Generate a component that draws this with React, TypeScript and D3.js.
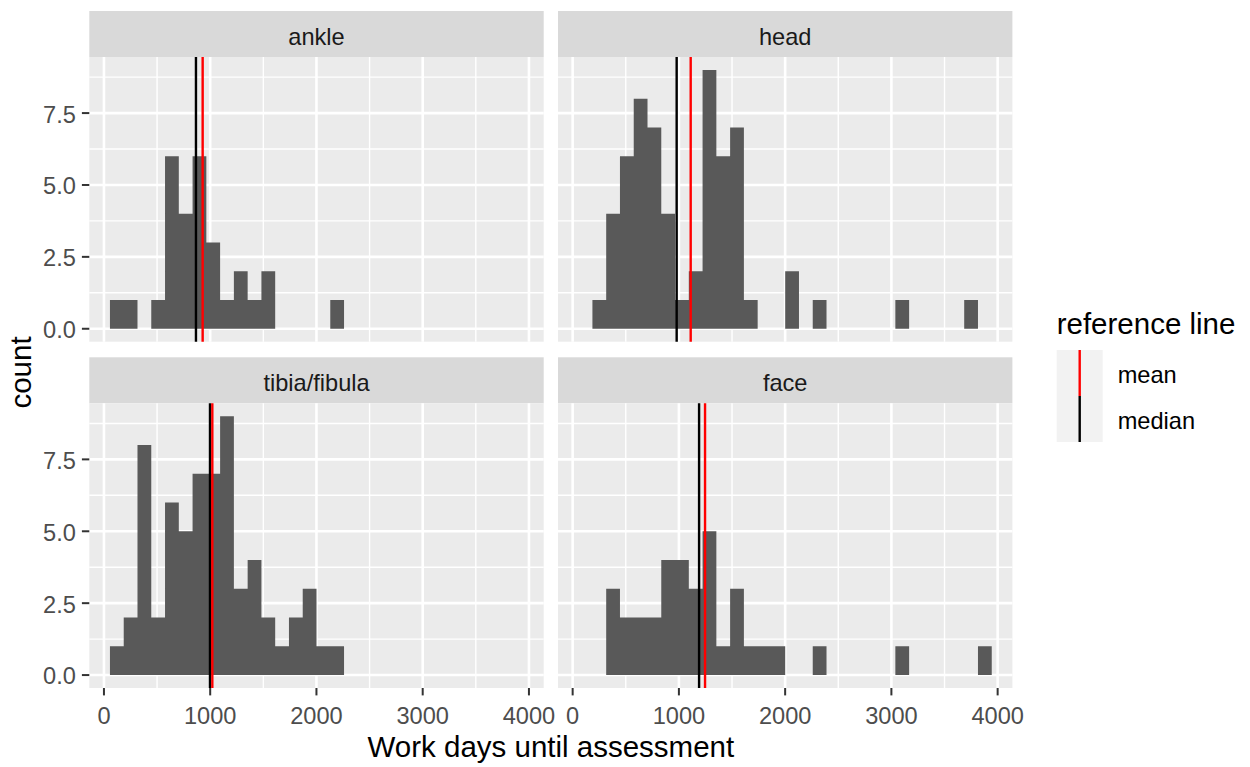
import { useEffect, useRef } from 'react'
import * as d3 from 'd3'

// histogram bins (30 bins, ggplot default)
const binStart = 56.5
const binWidth = 129.6
const binCount = 30

const facetNames = ['ankle', 'head', 'tibia/fibula', 'face']
const ankleCounts = [1, 1, 0, 1, 6, 4, 6, 3, 1, 2, 1, 2, 0, 0, 0, 0, 1, 0, 0, 0, 0, 0, 0, 0, 0, 0, 0, 0, 0, 0]
const headCounts = [0, 1, 4, 6, 8, 7, 4, 1, 2, 9, 6, 7, 1, 0, 0, 2, 0, 1, 0, 0, 0, 0, 0, 1, 0, 0, 0, 0, 1, 0]
const tibiaCounts = [1, 2, 8, 2, 6, 5, 7, 7, 9, 3, 4, 2, 1, 2, 3, 1, 1, 0, 0, 0, 0, 0, 0, 0, 0, 0, 0, 0, 0, 0]
const faceCounts = [0, 0, 3, 2, 2, 2, 4, 4, 3, 5, 1, 3, 1, 1, 1, 0, 0, 1, 0, 0, 0, 0, 0, 1, 0, 0, 0, 0, 0, 1]
const facetCounts = [ankleCounts, headCounts, tibiaCounts, faceCounts]
const facetMeans = [929, 1111, 1020, 1246]
const facetMedians = [866, 979, 998, 1190]

const xTicks = [0, 1000, 2000, 3000, 4000]
const xMinor = [500, 1500, 2500, 3500]
const yTicks = [0, 2.5, 5, 7.5]
const yMinor = [1.25, 3.75, 6.25, 8.75]
const legendItems = [
  { label: 'mean', color: '#FF0000' },
  { label: 'median', color: '#000000' },
]

const FONT = '"Liberation Sans", Arial, sans-serif'

export default function App() {
  const ref = useRef<SVGSVGElement>(null)

  useEffect(() => {
    const el = ref.current
    if (!el) return
    const svg = d3.select(el)
    svg.selectAll('*').remove()

    const left = 89.3
    const panelW = 454.4
    const gapX = 14.3
    const top = 11
    const stripH = 46
    const panelH = 284.7
    const gapY = 15.6
    const tickLen = 7.4
    const smallFont = 23.6
    const bigFont = 29.5

    const edges = d3.range(binCount + 1).map((i) => binStart + i * binWidth)
    const lo = edges[0]
    const hi = edges[binCount]
    const padX = (hi - lo) * 0.05
    const maxCount = d3.max(facetCounts.flat()) ?? 9
    const padY = maxCount * 0.05

    const x = d3.scaleLinear().domain([lo - padX, hi + padX]).range([0, panelW])
    const y = d3.scaleLinear().domain([-padY, maxCount + padY]).range([panelH, 0])

    svg.append('rect').attr('width', 1250).attr('height', 767).attr('fill', '#fff')

    facetNames.forEach((name, fi) => {
      const col = fi % 2
      const row = Math.floor(fi / 2)
      const px = left + col * (panelW + gapX)
      const stripY = top + row * (stripH + panelH + gapY)
      const py = stripY + stripH

      // strip
      svg.append('rect').attr('x', px).attr('y', stripY).attr('width', panelW).attr('height', stripH).attr('fill', '#D9D9D9')
      svg
        .append('text')
        .attr('x', px + panelW / 2)
        .attr('y', stripY + stripH / 2 + 10.5)
        .attr('text-anchor', 'middle')
        .attr('font-family', FONT)
        .attr('font-size', smallFont)
        .attr('fill', '#1A1A1A')
        .text(name)

      const g = svg.append('g').attr('transform', `translate(${px},${py})`)
      g.append('rect').attr('width', panelW).attr('height', panelH).attr('fill', '#EBEBEB')

      // grid
      g.selectAll('line.xmin').data(xMinor).join('line')
        .attr('x1', (d) => x(d)).attr('x2', (d) => x(d)).attr('y1', 0).attr('y2', panelH)
        .attr('stroke', '#fff').attr('stroke-width', 1.4)
      g.selectAll('line.ymin').data(yMinor).join('line')
        .attr('y1', (d) => y(d)).attr('y2', (d) => y(d)).attr('x1', 0).attr('x2', panelW)
        .attr('stroke', '#fff').attr('stroke-width', 1.4)
      g.selectAll('line.xmaj').data(xTicks).join('line')
        .attr('x1', (d) => x(d)).attr('x2', (d) => x(d)).attr('y1', 0).attr('y2', panelH)
        .attr('stroke', '#fff').attr('stroke-width', 2.6)
      g.selectAll('line.ymaj').data(yTicks).join('line')
        .attr('y1', (d) => y(d)).attr('y2', (d) => y(d)).attr('x1', 0).attr('x2', panelW)
        .attr('stroke', '#fff').attr('stroke-width', 2.6)

      // histogram as a step area
      const counts = facetCounts[fi]
      const pts = counts.map((c, i) => ({ x: edges[i], c }))
      pts.push({ x: edges[binCount], c: counts[binCount - 1] })
      const area = d3
        .area<{ x: number; c: number }>()
        .x((d) => x(d.x))
        .y0(y(0))
        .y1((d) => y(d.c))
        .curve(d3.curveStepAfter)
      g.append('path').attr('d', area(pts) ?? '').attr('fill', '#595959')

      // reference lines
      const refs = [
        { v: facetMedians[fi], color: '#000000' },
        { v: facetMeans[fi], color: '#FF0000' },
      ]
      g.selectAll('line.ref').data(refs).join('line')
        .attr('x1', (d) => x(d.v)).attr('x2', (d) => x(d.v)).attr('y1', 0).attr('y2', panelH)
        .attr('stroke', (d) => d.color).attr('stroke-width', 2.4)

      // y axis on left column
      if (col === 0) {
        g.selectAll('line.yt').data(yTicks).join('line')
          .attr('x1', -tickLen).attr('x2', 0).attr('y1', (d) => y(d)).attr('y2', (d) => y(d))
          .attr('stroke', '#333333').attr('stroke-width', 2)
        g.selectAll('text.yt').data(yTicks).join('text')
          .attr('x', -tickLen - 6).attr('y', (d) => y(d)).attr('dy', '0.4em')
          .attr('text-anchor', 'end').attr('font-family', FONT).attr('font-size', smallFont).attr('fill', '#4D4D4D')
          .text((d) => d.toFixed(1))
      }
      // x axis on bottom row
      if (row === 1) {
        g.selectAll('line.xt').data(xTicks).join('line')
          .attr('x1', (d) => x(d)).attr('x2', (d) => x(d)).attr('y1', panelH).attr('y2', panelH + tickLen)
          .attr('stroke', '#333333').attr('stroke-width', 2)
        g.selectAll('text.xt').data(xTicks).join('text')
          .attr('x', (d) => x(d)).attr('y', panelH + 36.5)
          .attr('text-anchor', 'middle').attr('font-family', FONT).attr('font-size', smallFont).attr('fill', '#4D4D4D')
          .text((d) => String(d))
      }
    })

    const panelsTop = top + stripH
    const panelsBottom = top + 2 * (stripH + panelH) + gapY
    const panelsRight = left + 2 * panelW + gapX

    // axis titles
    svg.append('text')
      .attr('x', (left + panelsRight) / 2).attr('y', 757)
      .attr('text-anchor', 'middle').attr('font-family', FONT).attr('font-size', bigFont).attr('fill', '#000')
      .text('Work days until assessment')
    svg.append('text')
      .attr('transform', `translate(30.5,${(panelsTop + panelsBottom) / 2}) rotate(-90)`)
      .attr('text-anchor', 'middle').attr('font-family', FONT).attr('font-size', bigFont).attr('fill', '#000')
      .text('count')

    // legend
    const lx = 1056.7
    const keyTop = 350
    const keySize = 46
    svg.append('text')
      .attr('x', lx).attr('y', 334)
      .attr('font-family', FONT).attr('font-size', bigFont).attr('fill', '#000')
      .text('reference line')
    const lg = svg.append('g').attr('transform', `translate(${lx},${keyTop})`)
    lg.selectAll('rect.key').data(legendItems).join('rect')
      .attr('x', 0).attr('y', (_, i) => i * keySize).attr('width', keySize).attr('height', keySize)
      .attr('fill', '#F2F2F2')
    lg.selectAll('line.key').data(legendItems).join('line')
      .attr('x1', keySize / 2).attr('x2', keySize / 2)
      .attr('y1', (_, i) => i * keySize).attr('y2', (_, i) => (i + 1) * keySize)
      .attr('stroke', (d) => d.color).attr('stroke-width', 2.4)
    lg.selectAll('text.key').data(legendItems).join('text')
      .attr('x', keySize + 15).attr('y', (_, i) => i * keySize + keySize / 2 + 9.5)
      .attr('font-family', FONT).attr('font-size', smallFont).attr('fill', '#000')
      .text((d) => d.label)
  }, [])

  return (
    <svg
      ref={ref}
      width={1250}
      height={767}
      style={{ position: 'absolute', left: 0, top: 0, display: 'block' }}
    />
  )
}
